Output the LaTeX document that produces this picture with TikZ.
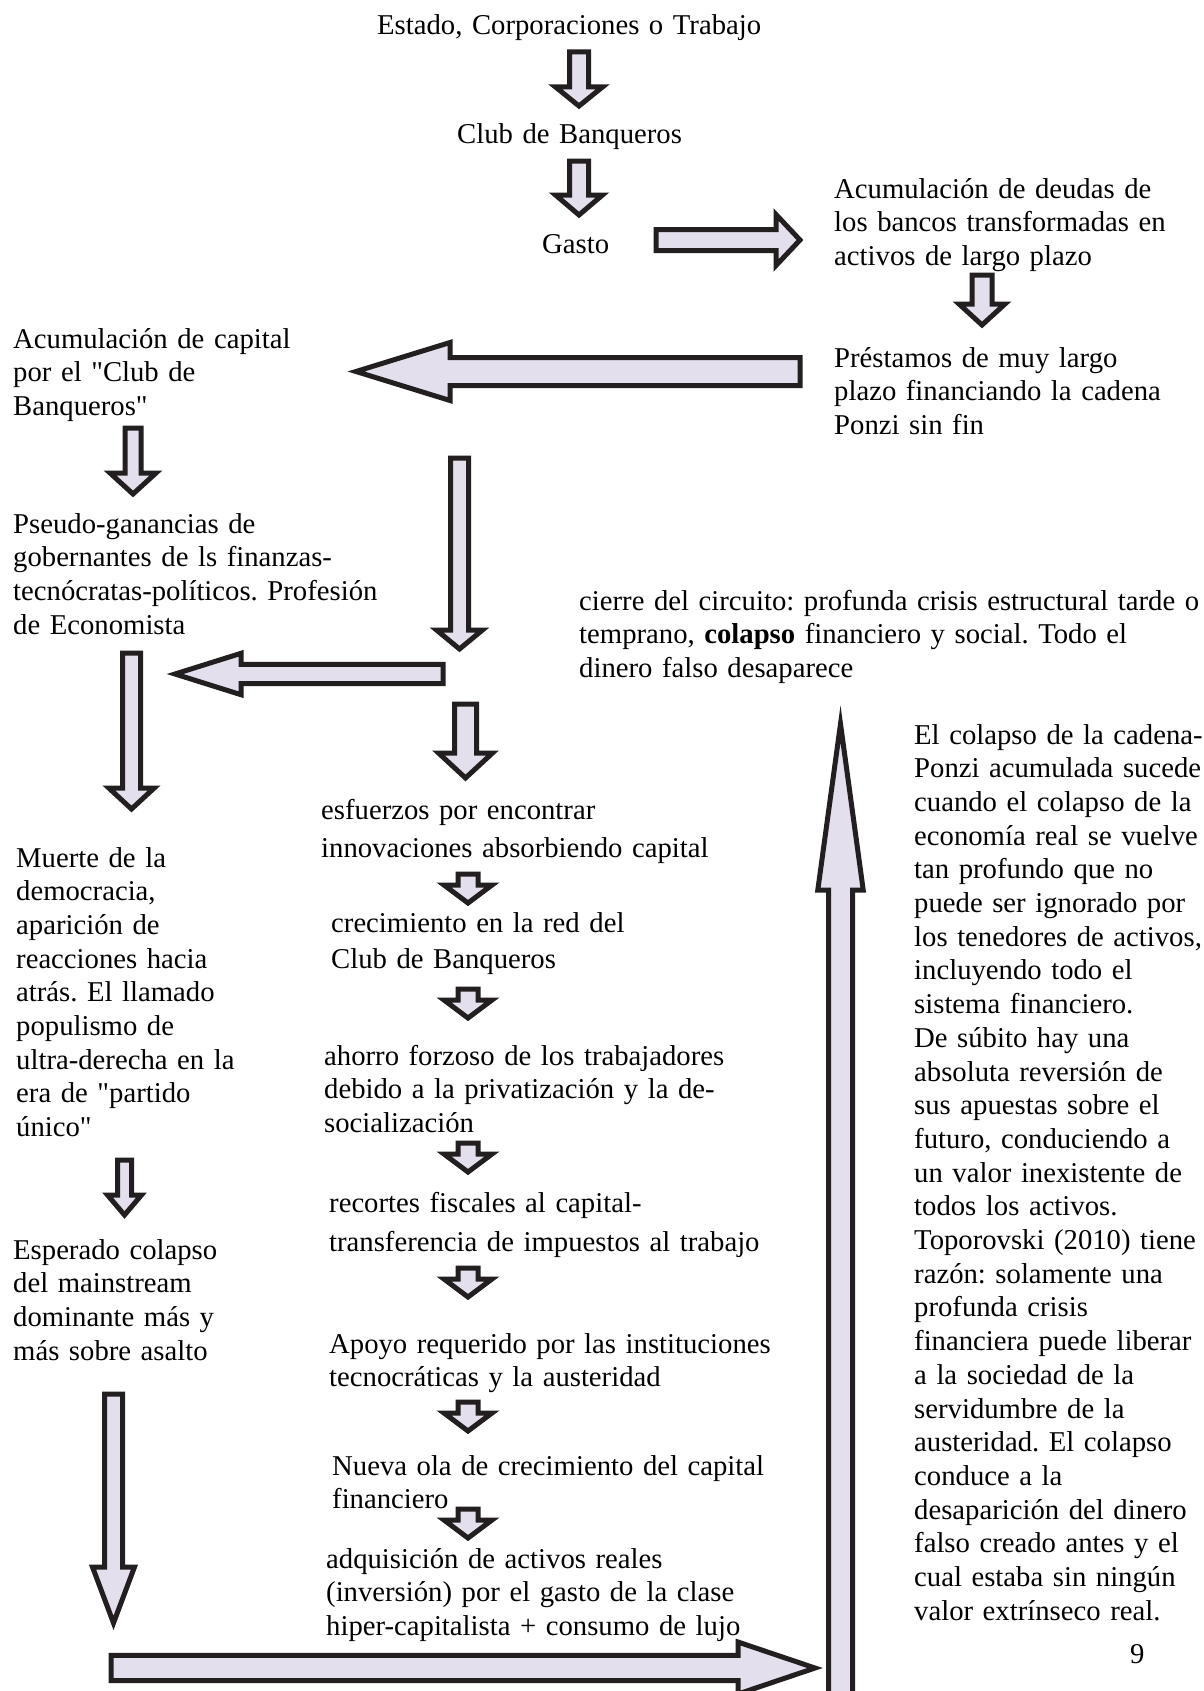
\documentclass[tikz,border=0pt]{standalone}
\usepackage{fontspec}
\setmainfont{Liberation Serif}[Ligatures=TeXOff]
\definecolor{afill}{HTML}{E4DFEC}
\definecolor{aline}{HTML}{231F20}
\tikzset{
  blockarrow/.style={draw=aline, fill=afill, line width=5pt, line join=miter, miter limit=12},
  txt/.style={anchor=base west, inner sep=0pt, text width=700pt, align=left,
              font=\fontsize{28.7}{33.7}\selectfont\frenchspacing}
}
% vertical block arrow: cx, base y, head-base y, tip y, shaft half width, head half width
\newcommand{\VBlockArr}[6]{%
  \draw[blockarrow] ({#1-#5},#2) -- ({#1+#5},#2) -- ({#1+#5},#3) -- ({#1+#6},#3) -- (#1,#4)
     -- ({#1-#6},#3) -- ({#1-#5},#3) -- cycle;}
% horizontal block arrow: cy, base x, head-base x, tip x, shaft half width, head half width
\newcommand{\HBlockArr}[6]{%
  \draw[blockarrow] (#2,{#1-#5}) -- (#3,{#1-#5}) -- (#3,{#1-#6}) -- (#4,#1)
     -- (#3,{#1+#6}) -- (#3,{#1+#5}) -- (#2,{#1+#5}) -- cycle;}
\begin{document}
\begin{tikzpicture}[x=1pt,y=-1pt]
\useasboundingbox (0,0) rectangle (1204,1691);

% ---------- texts ----------
\node[txt] (estado) at (377,35) {Estado, Corporaciones o Trabajo};
\node[txt] (club) at (457,143) {Club de Banqueros};
\node[txt] (gasto) at (542,253) {Gasto};
\node[txt] (acumdeu) at (834,198) {Acumulación de deudas de\\los bancos transformadas en\\activos de largo plazo};
\node[txt] (prest) at (834,367) {Préstamos de muy largo\\plazo financiando la cadena\\Ponzi sin fin};
\node[txt] (acumcap) at (13,348) {Acumulación de capital\\por el "Club de\\Banqueros"};
\node[txt] (pseudo) at (13,533) {Pseudo-ganancias de\\gobernantes de ls finanzas-\\tecnócratas-políticos. Profesión\\de Economista};
\node[txt] (cierre) at (579,610) {cierre del circuito: profunda crisis estructural tarde o\\temprano, \textbf{colapso} financiero y social. Todo el\\dinero falso desaparece};
\node[txt] (colapso) at (914,744) {El colapso de la cadena-\\Ponzi acumulada sucede\\cuando el colapso de la\\economía real se vuelve\\tan profundo que no\\puede ser ignorado por\\los tenedores de activos,\\incluyendo todo el\\sistema financiero.\\De súbito hay una\\absoluta reversión de\\sus apuestas sobre el\\futuro, conduciendo a\\un valor inexistente de\\todos los activos.\\Toporovski (2010) tiene\\razón: solamente una\\profunda crisis\\financiera puede liberar\\a la sociedad de la\\servidumbre de la\\austeridad. El colapso\\conduce a la\\desaparición del dinero\\falso creado antes y el\\cual estaba sin ningún\\valor extrínseco real.};
\node[txt] (esfuerzos) at (321,819) {esfuerzos por encontrar\\[5pt]innovaciones absorbiendo capital};
\node[txt] (crec) at (331,932) {crecimiento en la red del\\[3pt]Club de Banqueros};
\node[txt] (ahorro) at (324,1065) {ahorro forzoso de los trabajadores\\debido a la privatización y la de-\\socialización};
\node[txt] (recortes) at (329,1212) {recortes fiscales al capital-\\[6pt]transferencia de impuestos al trabajo};
\node[txt] (apoyo) at (329,1353) {Apoyo requerido por las instituciones\\tecnocráticas y la austeridad};
\node[txt] (nueva) at (332,1475) {Nueva ola de crecimiento del capital\\financiero};
\node[txt] (adq) at (326,1568) {adquisición de activos reales\\(inversión) por el gasto de la clase\\hiper-capitalista + consumo de lujo};
\node[txt] (muerte) at (16,867) {Muerte de la\\democracia,\\aparición de\\reacciones hacia\\atrás. El llamado\\populismo de\\ultra-derecha en la\\era de "partido\\único"};
\node[txt] (esperado) at (13,1259) {Esperado colapso\\del mainstream\\dominante más y\\más sobre asalto};
\node[txt] (pagenum) at (1130,1663) {9};

% ---------- block arrows ----------
% top column
\VBlockArr{579}{52}{87}{106}{9.5}{23.5}
\VBlockArr{579}{161}{195}{215}{9.5}{23.5}
\HBlockArr{240}{656}{776}{800}{10.5}{25.5}
\VBlockArr{982}{275}{304}{325}{10}{23}
\HBlockArr{371.5}{800}{450}{356}{14}{29}
% left column
\VBlockArr{133}{428}{473}{494}{8}{23}
\VBlockArr{459.5}{458}{630}{649}{9}{23}
\HBlockArr{674}{443}{241}{175}{9.7}{20.7}
\VBlockArr{131.5}{653}{788}{809}{9}{22.7}
\VBlockArr{465.5}{704}{753}{778}{11}{27}
\VBlockArr{124.5}{1160}{1195}{1215}{7}{17}
\VBlockArr{113.5}{1394}{1567}{1623}{9}{21}
% small arrows in centre column
\foreach \t in {872,987,1141,1266,1400,1507}{
  \VBlockArr{468}{\t+2}{\t+13}{\t+31}{10}{24}
}
% bottom and the tall up arrow
\HBlockArr{1668}{111}{738}{815}{12.7}{26}
\VBlockArr{840.5}{1700}{890}{724}{12}{22.7}
\end{tikzpicture}
\end{document}
